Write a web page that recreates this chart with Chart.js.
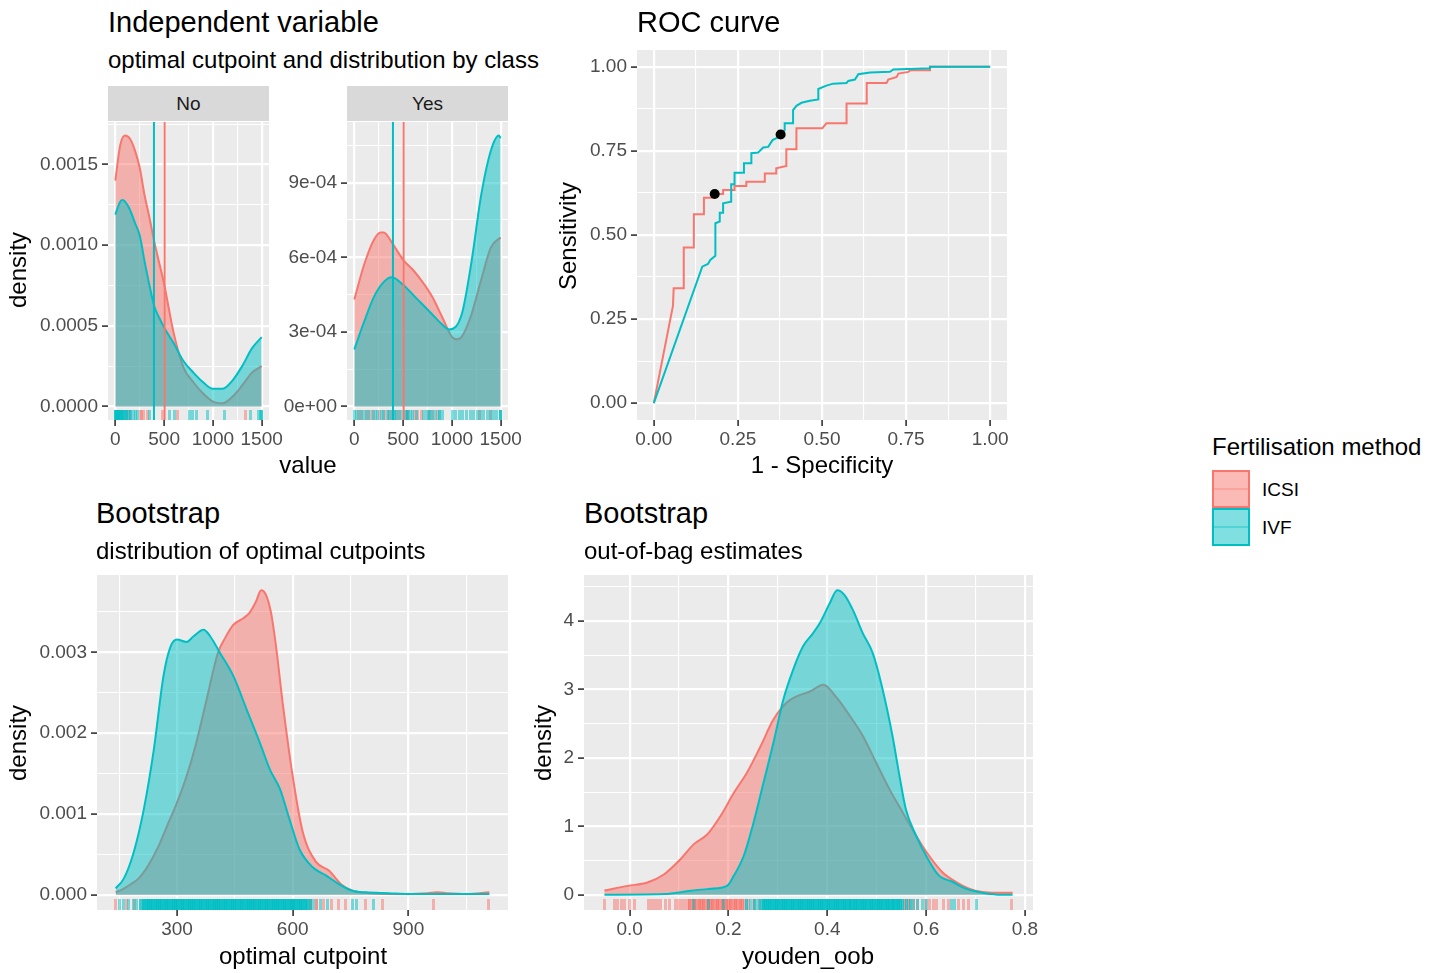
<!DOCTYPE html>
<html lang="en">
<head>
<meta charset="utf-8">
<title>Cutpoint analysis by fertilisation method</title>
<script src="https://cdn.jsdelivr.net/npm/chart.js@4/dist/chart.umd.min.js"></script>
<style>
  html, body { margin: 0; padding: 0; background: #fff; }
  #page { position: relative; width: 1439px; height: 973px; overflow: hidden;
          font-family: "Liberation Sans", Arial, Helvetica, sans-serif; }
  #page canvas { position: absolute; }
  .lbl { position: absolute; white-space: nowrap; line-height: 1; color: #000; }
  .strip { position: absolute; background: #d9d9d9; color: #1a1a1a; font-size: 19px;
           display: flex; align-items: center; justify-content: center; }
  .key { position: absolute; width: 38px; height: 38px; box-sizing: border-box; border: 2px solid; }
  .key i { position: absolute; left: 0; right: 0; top: 50%; height: 2px; margin-top: -1px; }
</style>
</head>
<body>
<div id="page">
  <canvas id="cNo"></canvas>
  <canvas id="cYes"></canvas>
  <canvas id="cRoc"></canvas>
  <canvas id="cBoot"></canvas>
  <canvas id="cOob"></canvas>
  <div class="strip" style="left:108px;top:86px;width:161px;height:35px">No</div>
  <div class="strip" style="left:347px;top:86px;width:161px;height:35px">Yes</div>
</div>
<script>
// ---------- data ----------
const groups = ["ICSI", "IVF"];
const groupColors = ["#F8766D", "#00BFC4"];

// density of the independent variable, class "No"
const noX_ICSI = [0, 50, 100, 150, 200, 250, 300, 350, 400, 450, 500, 600, 700, 800, 900, 1000, 1100, 1200, 1300, 1400, 1500];
const noY_ICSI = [0.00140, 0.00162, 0.00168, 0.00166, 0.00159, 0.00148, 0.00131, 0.00117, 0.00102, 0.00089, 0.00076, 0.00045, 0.00024, 0.00015, 0.00008, 0.00003, 0.00002, 0.00006, 0.00013, 0.00021, 0.00025];
const noX_IVF = [0, 50, 75, 100, 150, 200, 250, 300, 350, 400, 450, 500, 600, 700, 800, 900, 1000, 1100, 1200, 1300, 1400, 1500];
const noY_IVF = [0.00119, 0.00127, 0.00128, 0.00127, 0.00122, 0.00114, 0.00106, 0.00090, 0.00075, 0.00062, 0.00055, 0.00049, 0.00039, 0.00028, 0.00021, 0.00015, 0.00011, 0.00011, 0.00016, 0.00025, 0.00036, 0.00043];

// density of the independent variable, class "Yes"
const yesX_ICSI = [0, 100, 200, 270, 300, 400, 500, 600, 700, 800, 900, 1000, 1050, 1100, 1200, 1300, 1400, 1500];
const yesY_ICSI = [0.00043, 0.00057, 0.00067, 0.00070, 0.00070, 0.00065, 0.00059, 0.00055, 0.00050, 0.00044, 0.00036, 0.00028, 0.00027, 0.00028, 0.00037, 0.00051, 0.00064, 0.00068];
const yesX_IVF = [0, 100, 200, 300, 383, 500, 600, 700, 800, 900, 975, 1100, 1200, 1300, 1400, 1480, 1500];
const yesY_IVF = [0.00023, 0.00034, 0.00044, 0.00050, 0.00052, 0.00049, 0.00045, 0.00041, 0.00037, 0.00033, 0.00031, 0.00037, 0.00058, 0.00085, 0.00103, 0.00109, 0.00108];

// optimal cutpoints per method (ICSI, IVF)
const cutpoints = [505, 396];

// rug marks: [value, count]
const noRug_ICSI = [[20,1],[60,1],[110,1],[150,1],[254,1],[272,1],[290,1],[325,1],[487,1],[640,1],[1335,1]];
const noRug_IVF = [[0,3],[10,3],[20,3],[32,3],[45,2],[58,2],[72,2],[88,2],[100,1],[118,2],[135,1],[160,2],[185,1],[205,1],[225,1],[350,1],[558,1],[608,1],[761,1],[795,1],[830,1],[946,1],[1115,1],[1386,1],[1470,1],[1490,1],[1500,2]];
const yesRug_ICSI = [[41,1],[70,1],[129,1],[160,1],[200,1],[260,1],[314,1],[350,1],[380,1],[430,1],[460,1],[520,1],[560,1],[620,1],[650,1],[690,1],[760,1],[800,1],[850,1],[1280,1],[1400,1]];
const yesRug_IVF = [[0,1],[25,1],[55,1],[85,1],[110,1],[150,1],[185,1],[215,1],[240,1],[275,1],[300,1],[335,1],[365,1],[390,1],[416,2],[445,1],[475,1],[500,1],[530,1],[548,2],[575,1],[600,1],[640,1],[710,1],[740,1],[771,2],[800,1],[830,1],[872,2],[900,1],[1010,1],[1040,1],[1080,1],[1110,1],[1150,1],[1190,1],[1220,1],[1260,1],[1290,1],[1320,1],[1360,1],[1400,1],[1430,1],[1460,1],[1500,3]];

// ROC curves
const rocFpr_ICSI = [0, 0.057, 0.059, 0.089, 0.089, 0.119, 0.119, 0.149, 0.149, 0.181, 0.181, 0.206, 0.206, 0.240, 0.240, 0.275, 0.275, 0.330, 0.330, 0.364, 0.364, 0.394, 0.394, 0.424, 0.424, 0.501, 0.513, 0.573, 0.573, 0.633, 0.633, 0.692, 0.697, 0.722, 0.727, 0.757, 0.762, 0.821, 0.821, 1];
const rocTpr_ICSI = [0, 0.290, 0.342, 0.342, 0.463, 0.463, 0.562, 0.562, 0.611, 0.611, 0.622, 0.622, 0.634, 0.634, 0.646, 0.646, 0.658, 0.658, 0.683, 0.683, 0.698, 0.705, 0.755, 0.755, 0.817, 0.817, 0.832, 0.832, 0.891, 0.891, 0.952, 0.952, 0.962, 0.970, 0.980, 0.985, 0.990, 0.990, 1, 1];
const rocFpr_IVF = [0, 0.144, 0.161, 0.168, 0.183, 0.183, 0.196, 0.196, 0.206, 0.206, 0.230, 0.230, 0.240, 0.240, 0.268, 0.268, 0.290, 0.290, 0.310, 0.325, 0.340, 0.353, 0.369, 0.377, 0.389, 0.389, 0.414, 0.414, 0.424, 0.439, 0.464, 0.489, 0.489, 0.513, 0.533, 0.573, 0.578, 0.598, 0.608, 0.643, 0.702, 0.712, 0.821, 0.821, 1];
const rocTpr_IVF = [0, 0.406, 0.414, 0.426, 0.438, 0.535, 0.540, 0.566, 0.566, 0.594, 0.599, 0.651, 0.651, 0.685, 0.685, 0.713, 0.713, 0.743, 0.745, 0.760, 0.762, 0.782, 0.790, 0.799, 0.812, 0.832, 0.832, 0.871, 0.884, 0.893, 0.899, 0.903, 0.934, 0.944, 0.950, 0.952, 0.958, 0.962, 0.978, 0.983, 0.985, 0.992, 0.996, 1, 1];
const optFpr = [0.181, 0.377];
const optTpr = [0.622, 0.799];

// bootstrap: distribution of optimal cutpoints
const bootX_ICSI = [141, 160, 180, 200, 225, 250, 275, 300, 325, 350, 375, 406, 425, 446, 471, 488, 505, 518, 531, 544, 557, 574, 600, 626, 660, 694, 728, 755, 800, 850, 900, 950, 975, 1000, 1050, 1110];
const bootY_ICSI = [0.00003, 0.00007, 0.00013, 0.00020, 0.00036, 0.00058, 0.00086, 0.00114, 0.00147, 0.00188, 0.00238, 0.00299, 0.00318, 0.00334, 0.00342, 0.00349, 0.00363, 0.00377, 0.00371, 0.00349, 0.00307, 0.00238, 0.00147, 0.00078, 0.00041, 0.00030, 0.00012, 0.00005, 0.00002, 0.00001, 0.00001, 0.00002, 0.00003, 0.00002, 0.00001, 0.00003];
const bootX_IVF = [141, 162, 188, 214, 240, 265, 283, 300, 325, 343, 369, 386, 412, 446, 481, 515, 541, 567, 592, 618, 652, 686, 721, 755, 790, 850, 900, 1000, 1110];
const bootY_IVF = [0.00008, 0.00020, 0.00053, 0.00106, 0.00180, 0.00271, 0.00307, 0.00316, 0.00313, 0.00320, 0.00328, 0.00320, 0.00299, 0.00271, 0.00229, 0.00188, 0.00155, 0.00131, 0.00093, 0.00056, 0.00034, 0.00024, 0.00013, 0.00005, 0.00003, 0.00002, 0.00001, 0.00001, 0.00001];
const bootRug_ICSI = [[141,1],[170,1],[190,1],[300,1],[400,1],[500,1],[600,1],[647,2],[663,2],[680,1],[702,1],[720,1],[737,1],[789,1],[833,1],[964,1],[1107,1]];
const bootRug_IVF = [[150,1],[162,1],[175,1],[188,1],[196,1],[205,2],
  [214,4],[220,4],[226,4],[232,4],[237,4],[243,4],[249,4],[255,4],[261,4],[267,4],[273,4],[279,4],[285,4],[290,4],[296,4],[302,4],[308,4],[314,4],[320,4],[326,4],[332,4],[338,4],[343,4],[349,4],[355,4],[361,4],[367,4],[373,4],[379,4],[385,4],[391,4],[396,4],[402,4],[408,4],[414,4],[420,4],[426,4],[432,4],[438,4],[444,4],[449,4],[455,4],[461,4],[467,4],[473,4],[479,4],[485,4],[491,4],[497,4],[502,4],[508,4],[514,4],[520,4],[526,4],[532,4],[538,4],[544,4],[550,4],[555,4],[561,4],[567,4],[573,4],[579,4],[585,4],[591,4],[597,4],[603,4],[608,4],[614,4],[620,4],[626,4],[632,4],[638,3],
  [645,2],[655,1],[672,1],[690,1],[754,1],[766,1],[810,1]];

// bootstrap: out-of-bag Youden index
const oobX_ICSI = [-0.051, -0.004, 0.036, 0.070, 0.103, 0.130, 0.157, 0.184, 0.211, 0.238, 0.265, 0.291, 0.318, 0.338, 0.365, 0.392, 0.419, 0.446, 0.472, 0.499, 0.526, 0.553, 0.580, 0.606, 0.633, 0.660, 0.687, 0.714, 0.741, 0.775];
const oobY_ICSI = [0.063, 0.13, 0.18, 0.30, 0.52, 0.74, 0.88, 1.15, 1.49, 1.79, 2.17, 2.56, 2.81, 2.90, 2.97, 3.07, 2.88, 2.61, 2.32, 1.93, 1.54, 1.20, 0.86, 0.57, 0.33, 0.19, 0.09, 0.04, 0.029, 0.03];
const oobX_IVF = [-0.051, 0.070, 0.124, 0.164, 0.197, 0.211, 0.231, 0.251, 0.271, 0.291, 0.311, 0.331, 0.351, 0.371, 0.385, 0.405, 0.420, 0.435, 0.452, 0.472, 0.492, 0.512, 0.532, 0.546, 0.559, 0.580, 0.600, 0.626, 0.653, 0.680, 0.714, 0.754, 0.775];
const oobY_IVF = [0.0, 0.01, 0.06, 0.087, 0.13, 0.28, 0.57, 1.06, 1.64, 2.22, 2.85, 3.29, 3.63, 3.82, 3.97, 4.26, 4.45, 4.38, 4.16, 3.82, 3.53, 3.00, 2.32, 1.74, 1.25, 0.86, 0.57, 0.28, 0.19, 0.09, 0.03, 0.0, 0.0];
const oobRug_ICSI = [[-0.051,1],[-0.031,1],[-0.024,1],[-0.017,1],[-0.011,1],[0.000,1],[0.009,1],[0.039,1],[0.045,1],[0.051,1],[0.057,1],[0.063,1],[0.073,1],[0.080,1],[0.093,1],[0.099,1],[0.105,1],[0.111,1],[0.117,1],
  [0.122,3],[0.127,2],[0.131,3],[0.136,2],[0.141,3],[0.145,2],[0.150,3],[0.155,2],[0.159,3],[0.164,2],[0.168,3],[0.173,2],[0.178,3],[0.182,2],[0.187,3],[0.191,2],[0.196,3],[0.201,2],[0.205,3],[0.210,2],[0.214,3],[0.219,2],[0.224,3],[0.228,2],[0.233,1],[0.240,1],[0.250,1],[0.262,1],
  [0.556,2],[0.565,2],[0.574,1],[0.583,1],[0.598,1],[0.606,1],[0.614,1],[0.622,1],[0.636,1],[0.646,1],[0.666,1],[0.676,1],[0.686,1],[0.773,1]];
const oobRug_IVF = [[0.130,1],[0.160,1],[0.190,1],[0.236,2],[0.244,1],[0.252,2],[0.258,1],[0.265,2],
  [0.270,4],[0.275,4],[0.279,4],[0.284,4],[0.288,4],[0.293,4],[0.297,4],[0.302,4],[0.307,4],[0.311,4],[0.316,4],[0.320,4],[0.325,4],[0.329,4],[0.334,4],[0.339,4],[0.343,4],[0.348,4],[0.352,4],[0.357,4],[0.361,4],[0.366,4],[0.371,4],[0.375,4],[0.380,4],[0.384,4],[0.389,4],[0.393,4],[0.398,4],[0.403,4],[0.407,4],[0.412,4],[0.416,4],[0.421,4],[0.425,4],[0.430,4],[0.435,4],[0.439,4],[0.444,4],[0.448,4],[0.453,4],[0.457,4],[0.462,4],[0.467,4],[0.471,4],[0.476,4],[0.480,4],[0.485,4],[0.489,4],[0.494,4],[0.499,4],[0.503,4],[0.508,4],[0.512,4],[0.517,4],[0.521,4],[0.526,4],[0.531,4],[0.535,4],[0.540,4],[0.544,4],[0.548,3],
  [0.553,2],[0.560,2],[0.568,2],[0.575,1],[0.583,1],[0.592,1],[0.600,1],[0.652,1],[0.658,1],[0.702,1]];

// axis breaks
const valueTicks = [0, 500, 1000, 1500];
const noDensTicks = [0, 0.0005, 0.001, 0.0015];
const yesDensTicks = [0, 0.0003, 0.0006, 0.0009];
const rocTicks = [0, 0.25, 0.5, 0.75, 1];
const bootXTicks = [300, 600, 900];
const bootYTicks = [0, 0.001, 0.002, 0.003];
const oobXTicks = [0, 0.2, 0.4, 0.6, 0.8];
const oobYTicks = [0, 1, 2, 3, 4];

// ---------- helpers ----------
const FONT = '"Liberation Sans", Arial, Helvetica, sans-serif';
Chart.defaults.font.family = FONT;
const page = document.getElementById('page');

function rgba(hex, a) {
  const n = parseInt(hex.slice(1), 16);
  return `rgba(${n >> 16},${(n >> 8) & 255},${n & 255},${a})`;
}
const pts = (xs, ys) => xs.map((x, i) => ({ x, y: ys[i] }));

// ggplot-style 5% expansion of a data range
function span(lo, hi) {
  const d = (hi - lo) * 0.05;
  return { min: lo - d, max: hi + d };
}

// major breaks plus minor breaks halfway between them
function withMinor(major, min, max) {
  const step = major[1] - major[0];
  const out = major.map(v => ({ value: v }));
  for (let i = 0; i <= major.length; i++) {
    const m = i === 0 ? major[0] - step / 2 : major[i - 1] + step / 2;
    if (m >= min && m <= max) out.push({ value: m, minor: true });
  }
  return out.sort((a, b) => a.value - b.value);
}

function axis(a, dir, size) {
  return {
    type: 'linear', min: a.min, max: a.max,
    afterBuildTicks: s => { s.ticks = withMinor(a.ticks, a.min, a.max); },
    afterFit: s => { if (dir === 'x') s.height = size; else s.width = size; },
    grid: {
      color: '#ffffff',
      lineWidth: c => (c.tick && c.tick.minor ? 1.1 : 2.2),
      tickColor: c => (c.tick && c.tick.minor ? 'rgba(0,0,0,0)' : '#333333'),
      tickLength: 6, tickWidth: 1.6, drawTicks: true
    },
    border: { display: false },
    ticks: {
      autoSkip: false, maxRotation: 0, minRotation: 0, padding: dir === 'x' ? 2 : 4,
      color: '#4d4d4d', font: { family: FONT, size: 19 },
      callback: (v, i, t) => (t[i] && t[i].minor ? '' : a.fmt(v))
    }
  };
}

function density(xs, ys, ci) {
  return {
    label: groups[ci], data: pts(xs, ys), showLine: true, fill: 'origin',
    borderColor: groupColors[ci], backgroundColor: rgba(groupColors[ci], 0.5),
    borderWidth: 2, pointRadius: 0, cubicInterpolationMode: 'monotone', order: 2 - ci
  };
}

function rocLine(xs, ys, ci) {
  return {
    label: groups[ci], data: pts(xs, ys), showLine: true, fill: false,
    borderColor: groupColors[ci], borderWidth: 2, pointRadius: 0, tension: 0, order: 2 - ci
  };
}

// panel background, rugs and cutpoint lines
function panelLayer(cfg) {
  return {
    id: 'panelLayer',
    beforeDraw(chart) {
      const { ctx, chartArea: a } = chart;
      ctx.save();
      ctx.fillStyle = '#ebebeb';
      ctx.fillRect(a.left, a.top, a.right - a.left, a.bottom - a.top);
      ctx.restore();
    },
    afterDatasetsDraw(chart) {
      const { ctx, chartArea: a } = chart;
      const x = chart.scales.x;
      ctx.save();
      ctx.beginPath();
      ctx.rect(a.left, a.top, a.right - a.left, a.bottom - a.top);
      ctx.clip();
      // rug ticks as pixel-snapped bars, repeated values drawn more opaque
      const len = Math.round((a.bottom - a.top) * 0.033);
      (cfg.rugs || []).forEach(r => {
        ctx.fillStyle = groupColors[r.ci];
        r.data.forEach(([v, n]) => {
          const px = Math.round(x.getPixelForValue(v) - 1.5);
          ctx.globalAlpha = 1 - Math.pow(0.5, n);
          ctx.fillRect(px, a.bottom - len, 3, len);
        });
      });
      ctx.globalAlpha = 1;
      (cfg.vlines || []).forEach((v, ci) => {
        const px = x.getPixelForValue(v);
        ctx.strokeStyle = groupColors[ci];
        ctx.lineWidth = 2;
        ctx.beginPath();
        ctx.moveTo(px, a.top);
        ctx.lineTo(px, a.bottom);
        ctx.stroke();
      });
      ctx.restore();
    }
  };
}

function makeChart(id, area, yw, cfg) {
  const xh = 46, padT = 16, padR = 36;
  const w = area.r - area.l + yw + padR;
  const h = area.b - area.t + xh + padT;
  const cv = document.getElementById(id);
  cv.width = w; cv.height = h;
  Object.assign(cv.style, {
    left: (area.l - yw) + 'px', top: (area.t - padT) + 'px', width: w + 'px', height: h + 'px'
  });
  return new Chart(cv, {
    type: 'line',
    data: { datasets: cfg.datasets },
    options: {
      responsive: false, animation: false, devicePixelRatio: 1,
      layout: { padding: { left: 0, top: padT, right: padR, bottom: 0 } },
      plugins: { legend: { display: false }, tooltip: { enabled: false } },
      scales: { x: axis(cfg.x, 'x', xh), y: axis(cfg.y, 'y', yw) }
    },
    plugins: [panelLayer(cfg)]
  });
}

function text(str, x, y, size, opts = {}) {
  const el = document.createElement('div');
  el.className = 'lbl';
  el.textContent = str;
  el.style.left = x + 'px';
  el.style.top = y + 'px';
  el.style.fontSize = size + 'px';
  el.style.transform = `translate(${opts.center ? '-50%' : '0'}, -50%)` + (opts.rotate ? ' rotate(-90deg)' : '');
  if (opts.color) el.style.color = opts.color;
  page.appendChild(el);
}

const maxOf = (...arrs) => Math.max(...arrs.flat());
const minOf = (...arrs) => Math.min(...arrs.flat());
const sci = v => v.toExponential(0).replace(/e([+-])(\d)$/, 'e$10$2');

// ---------- independent variable, faceted by class ----------
const valueRange = span(minOf(noX_ICSI, noX_IVF, yesX_ICSI, yesX_IVF), maxOf(noX_ICSI, noX_IVF, yesX_ICSI, yesX_IVF));

makeChart('cNo', { l: 108, t: 122, r: 269, b: 420 }, 78, {
  datasets: [density(noX_ICSI, noY_ICSI, 0), density(noX_IVF, noY_IVF, 1)],
  x: { ...valueRange, ticks: valueTicks, fmt: v => String(v) },
  y: { ...span(0, maxOf(noY_ICSI, noY_IVF)), ticks: noDensTicks, fmt: v => v.toFixed(4) },
  rugs: [{ ci: 0, data: noRug_ICSI }, { ci: 1, data: noRug_IVF }],
  vlines: cutpoints
});

makeChart('cYes', { l: 347, t: 122, r: 508, b: 420 }, 70, {
  datasets: [density(yesX_ICSI, yesY_ICSI, 0), density(yesX_IVF, yesY_IVF, 1)],
  x: { ...valueRange, ticks: valueTicks, fmt: v => String(v) },
  y: { ...span(0, maxOf(yesY_ICSI, yesY_IVF)), ticks: yesDensTicks, fmt: sci },
  rugs: [{ ci: 0, data: yesRug_ICSI }, { ci: 1, data: yesRug_IVF }],
  vlines: cutpoints
});

// ---------- ROC curve ----------
makeChart('cRoc', { l: 637, t: 50, r: 1007, b: 420 }, 80, {
  datasets: [
    rocLine(rocFpr_ICSI, rocTpr_ICSI, 0),
    rocLine(rocFpr_IVF, rocTpr_IVF, 1),
    { label: 'optimal', data: pts(optFpr, optTpr), showLine: false, pointRadius: 5,
      pointBackgroundColor: '#000', pointBorderWidth: 0, order: 0 }
  ],
  x: { ...span(0, 1), ticks: rocTicks, fmt: v => v.toFixed(2) },
  y: { ...span(0, 1), ticks: rocTicks, fmt: v => v.toFixed(2) }
});

// ---------- bootstrap panels ----------
makeChart('cBoot', { l: 97, t: 575, r: 508, b: 910 }, 70, {
  datasets: [density(bootX_ICSI, bootY_ICSI, 0), density(bootX_IVF, bootY_IVF, 1)],
  x: { ...span(minOf(bootX_ICSI, bootX_IVF), maxOf(bootX_ICSI, bootX_IVF)), ticks: bootXTicks, fmt: v => String(v) },
  y: { ...span(0, maxOf(bootY_ICSI, bootY_IVF)), ticks: bootYTicks, fmt: v => v.toFixed(3) },
  rugs: [{ ci: 0, data: bootRug_ICSI }, { ci: 1, data: bootRug_IVF }]
});

makeChart('cOob', { l: 584, t: 575, r: 1033, b: 910 }, 40, {
  datasets: [density(oobX_ICSI, oobY_ICSI, 0), density(oobX_IVF, oobY_IVF, 1)],
  x: { ...span(minOf(oobX_ICSI, oobX_IVF), maxOf(oobX_ICSI, oobX_IVF)), ticks: oobXTicks, fmt: v => v.toFixed(1) },
  y: { ...span(0, maxOf(oobY_ICSI, oobY_IVF)), ticks: oobYTicks, fmt: v => String(v) },
  rugs: [{ ci: 0, data: oobRug_ICSI }, { ci: 1, data: oobRug_IVF }]
});

// ---------- titles and axis labels ----------
text('Independent variable', 108, 22, 29);
text('optimal cutpoint and distribution by class', 108, 60, 24);
text('density', 18, 270, 24, { center: true, rotate: true });
text('value', 308, 465, 24, { center: true });

text('ROC curve', 637, 22, 29);
text('Sensitivity', 568, 236, 24, { center: true, rotate: true });
text('1 - Specificity', 822, 465, 24, { center: true });

text('Bootstrap', 96, 513, 29);
text('distribution of optimal cutpoints', 96, 551, 24);
text('density', 18, 743, 24, { center: true, rotate: true });
text('optimal cutpoint', 303, 956, 24, { center: true });

text('Bootstrap', 584, 513, 29);
text('out-of-bag estimates', 584, 551, 24);
text('density', 543, 743, 24, { center: true, rotate: true });
text('youden_oob', 808, 956, 24, { center: true });

// ---------- legend ----------
text('Fertilisation method', 1212, 447, 24);
groups.forEach((g, i) => {
  const key = document.createElement('div');
  key.className = 'key';
  key.style.left = '1212px';
  key.style.top = (470 + i * 38) + 'px';
  key.style.borderColor = groupColors[i];
  key.style.background = rgba(groupColors[i], 0.5);
  const mid = document.createElement('i');
  mid.style.background = rgba(groupColors[i], 0.35);
  key.appendChild(mid);
  page.appendChild(key);
  text(g, 1262, 489 + i * 38, 19);
});
</script>
</body>
</html>
